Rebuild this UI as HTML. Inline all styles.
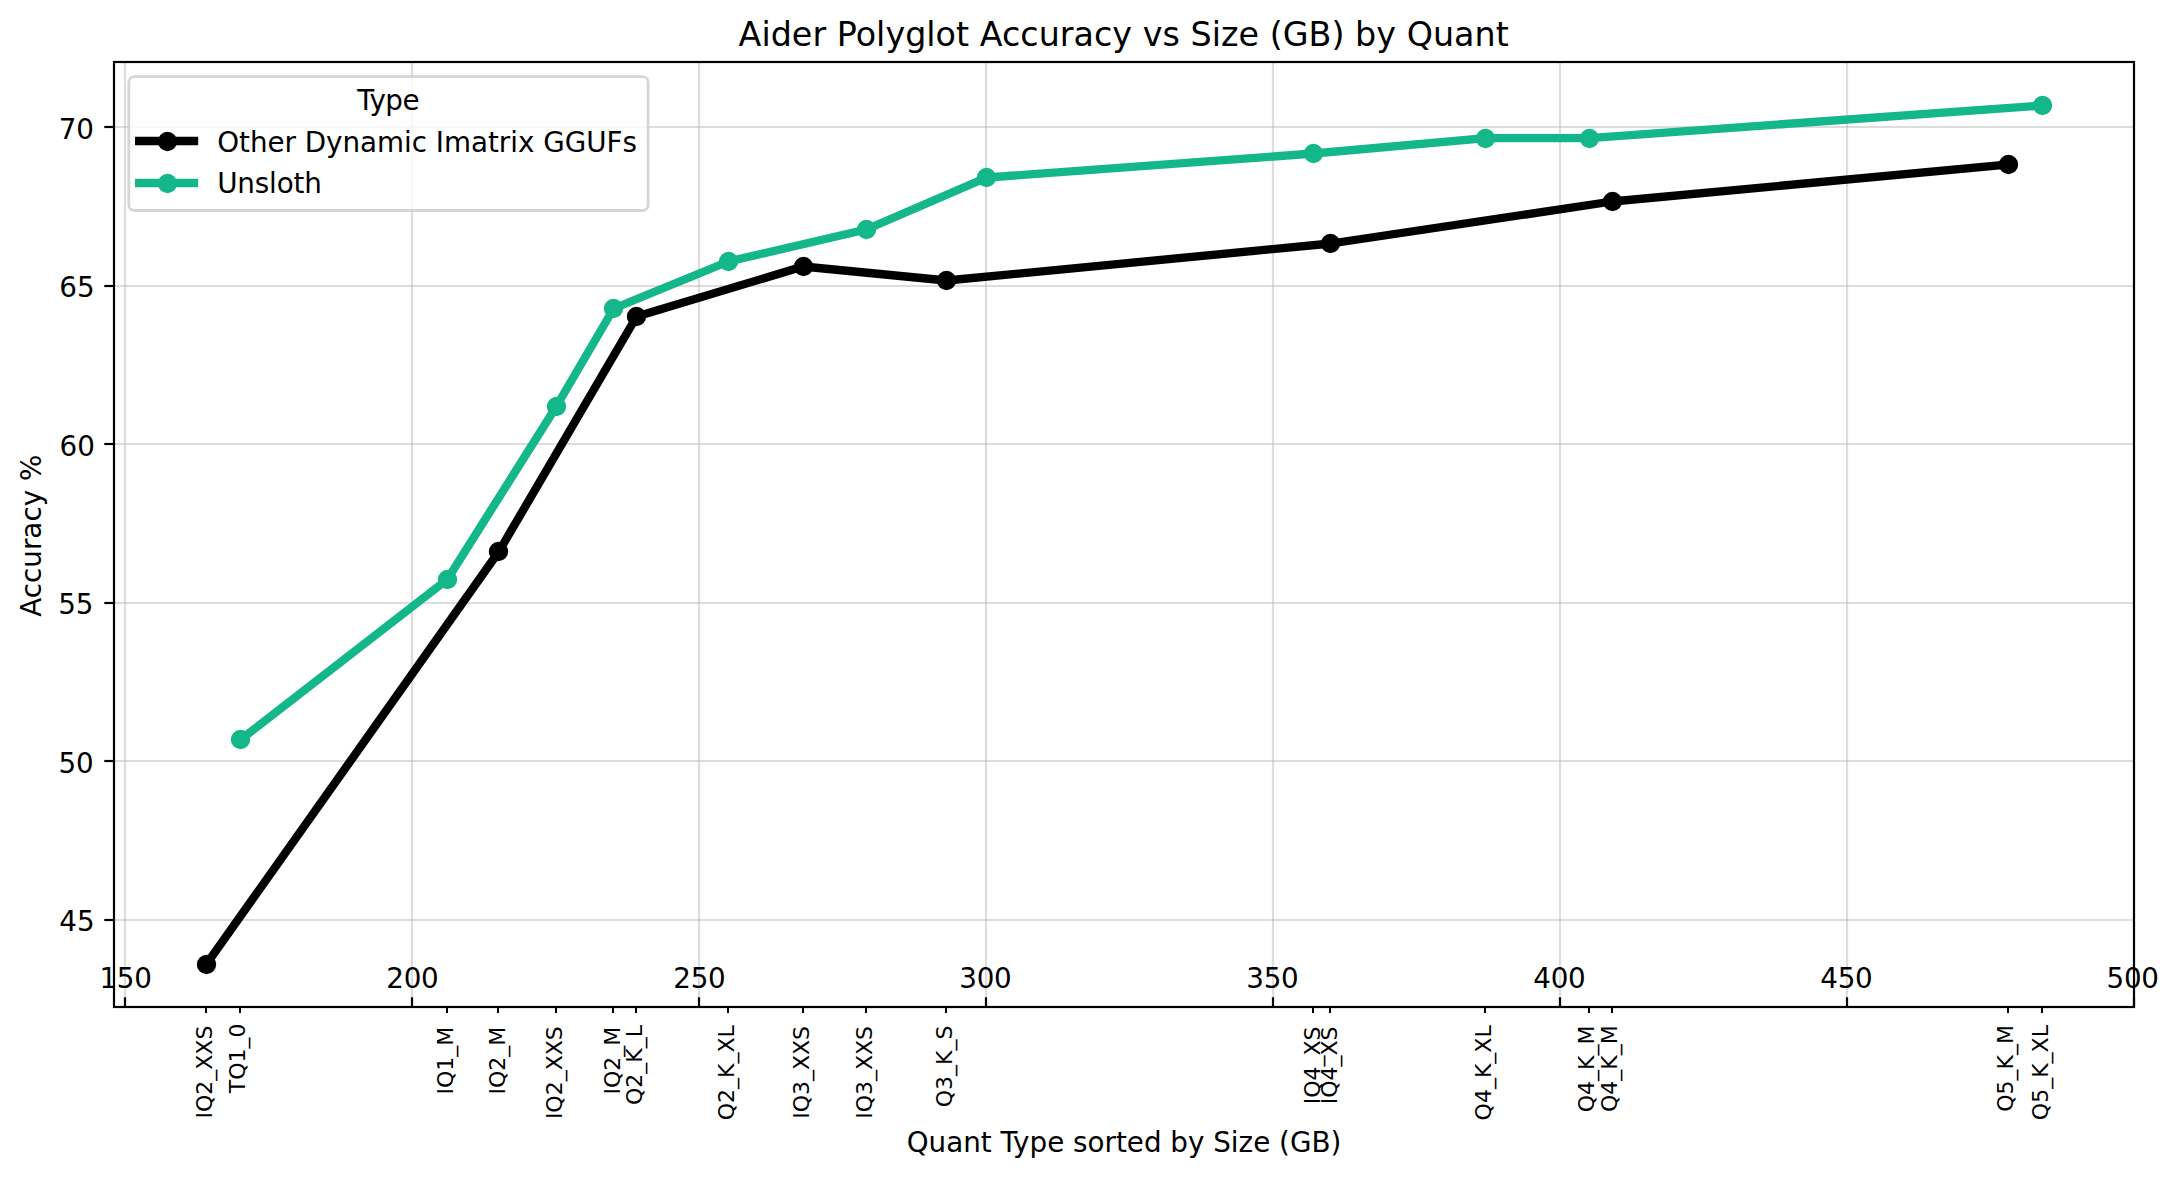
<!DOCTYPE html>
<html lang="en"><head><meta charset="utf-8">
<title>Aider Polyglot Accuracy vs Size (GB) by Quant</title>
<style>
html,body{margin:0;padding:0;background:#fff;}
body{width:2180px;height:1177px;overflow:hidden;}
svg{display:block;}
text{font-family:"DejaVu Sans","Liberation Sans",sans-serif;fill:#000;}
.t10{font-size:27.78px;}
.t12{font-size:33.33px;}
.t8{font-size:22px;}
</style></head><body>
<svg width="2180" height="1177" viewBox="0 0 2180 1177">
<rect x="0" y="0" width="2180" height="1177" fill="#ffffff"/>
<g stroke="#b0b0b0" stroke-opacity="0.43" stroke-width="2.2" fill="none">
<line x1="125" y1="62" x2="125" y2="1007"/>
<line x1="412" y1="62" x2="412" y2="1007"/>
<line x1="699" y1="62" x2="699" y2="1007"/>
<line x1="986" y1="62" x2="986" y2="1007"/>
<line x1="1273" y1="62" x2="1273" y2="1007"/>
<line x1="1560" y1="62" x2="1560" y2="1007"/>
<line x1="1847" y1="62" x2="1847" y2="1007"/>
<line x1="114" y1="127" x2="2134" y2="127"/>
<line x1="114" y1="286" x2="2134" y2="286"/>
<line x1="114" y1="444" x2="2134" y2="444"/>
<line x1="114" y1="603" x2="2134" y2="603"/>
<line x1="114" y1="761" x2="2134" y2="761"/>
<line x1="114" y1="920" x2="2134" y2="920"/>
</g>
<polyline points="206.27,964.5 498.92,551.5 636.64,316.5 803.05,266.5 946.51,280.5 1330.97,243.5 1612.15,201.5 2008.09,164.5" fill="none" stroke="#000000" stroke-width="8.33" stroke-linejoin="round" stroke-linecap="square"/>
<g fill="#000000" stroke="#000000" stroke-width="2.78">
<circle cx="206.5" cy="964.5" r="8.33"/>
<circle cx="498.5" cy="551.5" r="8.33"/>
<circle cx="636.5" cy="316.5" r="8.33"/>
<circle cx="803.5" cy="266.5" r="8.33"/>
<circle cx="946.5" cy="280.5" r="8.33"/>
<circle cx="1330.5" cy="243.5" r="8.33"/>
<circle cx="1612.5" cy="201.5" r="8.33"/>
<circle cx="2008.5" cy="164.5" r="8.33"/>
</g>
<polyline points="240.7,739.5 447.27,579.5 556.3,406.5 613.69,308.5 728.45,261.5 866.17,229.5 986.67,177.5 1313.76,153.5 1485.91,138.1 1589.2,138.1 2042.52,105.5" fill="none" stroke="#14b789" stroke-width="8.33" stroke-linejoin="round" stroke-linecap="square"/>
<g fill="#14b789" stroke="#14b789" stroke-width="2.78">
<circle cx="240.5" cy="739.5" r="8.33"/>
<circle cx="447.5" cy="579.5" r="8.33"/>
<circle cx="556.5" cy="406.5" r="8.33"/>
<circle cx="613.5" cy="308.5" r="8.33"/>
<circle cx="728.5" cy="261.5" r="8.33"/>
<circle cx="866.5" cy="229.5" r="8.33"/>
<circle cx="986.5" cy="177.5" r="8.33"/>
<circle cx="1313.5" cy="153.5" r="8.33"/>
<circle cx="1485.5" cy="138.5" r="8.33"/>
<circle cx="1589.5" cy="138.5" r="8.33"/>
<circle cx="2042.5" cy="105.5" r="8.33"/>
</g>
<g stroke="#000" stroke-width="2.2" fill="none">
<line x1="125" y1="1007" x2="125" y2="997.28"/>
<line x1="412" y1="1007" x2="412" y2="997.28"/>
<line x1="699" y1="1007" x2="699" y2="997.28"/>
<line x1="986" y1="1007" x2="986" y2="997.28"/>
<line x1="1273" y1="1007" x2="1273" y2="997.28"/>
<line x1="1560" y1="1007" x2="1560" y2="997.28"/>
<line x1="1847" y1="1007" x2="1847" y2="997.28"/>
<line x1="2134" y1="1007" x2="2134" y2="997.28"/>
<line x1="114" y1="127" x2="104.28" y2="127"/>
<line x1="114" y1="286" x2="104.28" y2="286"/>
<line x1="114" y1="444" x2="104.28" y2="444"/>
<line x1="114" y1="603" x2="104.28" y2="603"/>
<line x1="114" y1="761" x2="104.28" y2="761"/>
<line x1="114" y1="920" x2="104.28" y2="920"/>
</g>
<g stroke="#000" stroke-width="2" fill="none">
<line x1="206" y1="1007" x2="206" y2="1013"/>
<line x1="240" y1="1007" x2="240" y2="1013"/>
<line x1="447" y1="1007" x2="447" y2="1013"/>
<line x1="498" y1="1007" x2="498" y2="1013"/>
<line x1="556" y1="1007" x2="556" y2="1013"/>
<line x1="613" y1="1007" x2="613" y2="1013"/>
<line x1="636" y1="1007" x2="636" y2="1013"/>
<line x1="728" y1="1007" x2="728" y2="1013"/>
<line x1="803" y1="1007" x2="803" y2="1013"/>
<line x1="866" y1="1007" x2="866" y2="1013"/>
<line x1="946" y1="1007" x2="946" y2="1013"/>
<line x1="1313" y1="1007" x2="1313" y2="1013"/>
<line x1="1330" y1="1007" x2="1330" y2="1013"/>
<line x1="1485" y1="1007" x2="1485" y2="1013"/>
<line x1="1589" y1="1007" x2="1589" y2="1013"/>
<line x1="1612" y1="1007" x2="1612" y2="1013"/>
<line x1="2008" y1="1007" x2="2008" y2="1013"/>
<line x1="2042" y1="1007" x2="2042" y2="1013"/>
</g>
<rect x="114" y="62" width="2020" height="945" fill="none" stroke="#000" stroke-width="2.2" stroke-linejoin="miter"/>
<g class="t10" text-anchor="middle">
<text x="125.7" y="987.6" textLength="52.4" lengthAdjust="spacing">150</text>
<text x="412.5" y="987.6" textLength="52.4" lengthAdjust="spacing">200</text>
<text x="699.5" y="987.6" textLength="52.4" lengthAdjust="spacing">250</text>
<text x="985.5" y="987.6" textLength="52.4" lengthAdjust="spacing">300</text>
<text x="1272.5" y="987.6" textLength="52.4" lengthAdjust="spacing">350</text>
<text x="1559.5" y="987.6" textLength="52.4" lengthAdjust="spacing">400</text>
<text x="1846.5" y="987.6" textLength="52.4" lengthAdjust="spacing">450</text>
<text x="2132.8" y="987.6" textLength="52.4" lengthAdjust="spacing">500</text>
</g>
<g class="t10" text-anchor="end">
<text x="94" y="139.2">70</text>
<text x="94.6" y="297.3">65</text>
<text x="94.9" y="456.3">60</text>
<text x="93.5" y="614.3">55</text>
<text x="93.8" y="773.2">50</text>
<text x="94.6" y="931.3">45</text>
</g>
<g class="t8" text-anchor="end">
<text transform="translate(212.05,1025.6) rotate(-90)">IQ2_XXS</text>
<text transform="translate(244.8,1023.4) rotate(-90)">TQ1_0</text>
<text transform="translate(453.1,1026.7) rotate(-90)">IQ1_M</text>
<text transform="translate(505.15,1026.7) rotate(-90)">IQ2_M</text>
<text transform="translate(562.1,1026.2) rotate(-90)">IQ2_XXS</text>
<text transform="translate(620.1,1026.7) rotate(-90)">IQ2_M</text>
<text transform="translate(642.4,1025) rotate(-90)">Q2_K_L</text>
<text transform="translate(734.4,1025.2) rotate(-90)">Q2_K_XL</text>
<text transform="translate(809.2,1025.9) rotate(-90)">IQ3_XXS</text>
<text transform="translate(872.1,1025.9) rotate(-90)">IQ3_XXS</text>
<text transform="translate(952.4,1025.6) rotate(-90)">Q3_K_S</text>
<text transform="translate(1320.4,1026.5) rotate(-90)">IQ4_XS</text>
<text transform="translate(1336.65,1026.5) rotate(-90)">IQ4_XS</text>
<text transform="translate(1490.8,1025.3) rotate(-90)">Q4_K_XL</text>
<text transform="translate(1593.6,1025.6) rotate(-90)">Q4_K_M</text>
<text transform="translate(1617.3,1025.3) rotate(-90)">Q4_K_M</text>
<text transform="translate(2013.1,1025) rotate(-90)">Q5_K_M</text>
<text transform="translate(2048.2,1025.1) rotate(-90)">Q5_K_XL</text>
</g>
<rect x="128.8" y="76.7" width="519.3" height="133.8" rx="5.5" ry="5.5" fill="#ffffff" fill-opacity="0.8" stroke="#cccccc" stroke-opacity="0.8" stroke-width="2.78"/>
<text class="t10" x="388.4" y="109.7" text-anchor="middle" textLength="62.3" lengthAdjust="spacing">Type</text>
<line x1="139.2" y1="141" x2="194" y2="141" stroke="#000000" stroke-width="8.33" stroke-linecap="square"/>
<circle cx="167.5" cy="141.5" r="8.33" fill="#000000" stroke="#000000" stroke-width="2.78"/>
<text class="t10" x="217.2" y="151.8" textLength="419.65" lengthAdjust="spacing">Other Dynamic Imatrix GGUFs</text>
<line x1="139.2" y1="183" x2="194" y2="183" stroke="#14b789" stroke-width="8.33" stroke-linecap="square"/>
<circle cx="167.5" cy="183.5" r="8.33" fill="#14b789" stroke="#14b789" stroke-width="2.78"/>
<text class="t10" x="217.2" y="193.2" textLength="104.6" lengthAdjust="spacing">Unsloth</text>
<text class="t12" x="1123.65" y="45.5" text-anchor="middle" textLength="770.2" lengthAdjust="spacing">Aider Polyglot Accuracy vs Size (GB) by Quant</text>
<text class="t10" x="1124" y="1152" text-anchor="middle">Quant Type sorted by Size (GB)</text>
<text class="t10" transform="translate(40.6,535.7) rotate(-90)" text-anchor="middle">Accuracy %</text>
</svg>
</body></html>
